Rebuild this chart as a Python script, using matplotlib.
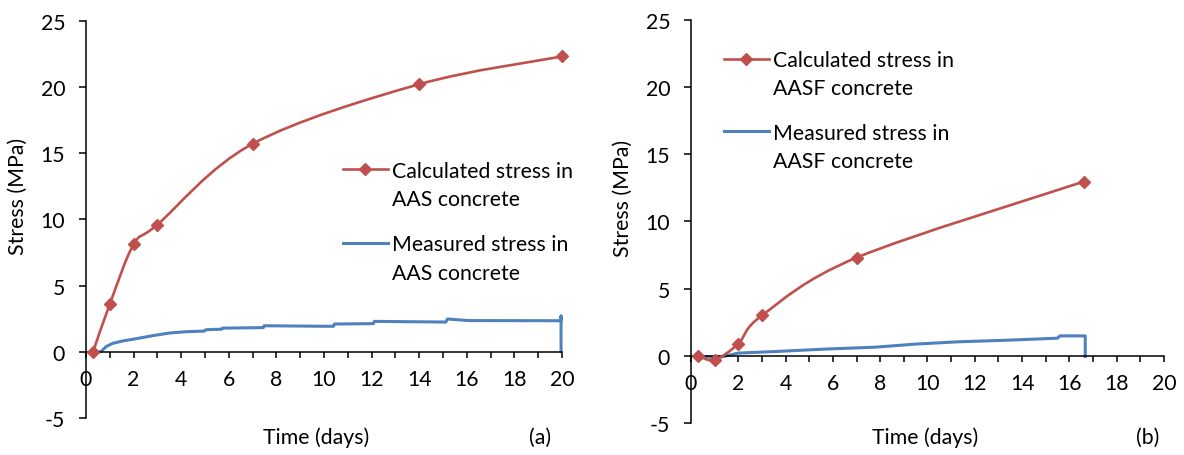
import numpy as np
import matplotlib
matplotlib.use("Agg")
import matplotlib.pyplot as plt
from matplotlib.path import Path
from matplotlib.patches import PathPatch
from matplotlib.lines import Line2D
from matplotlib.ticker import MultipleLocator

plt.rcParams['font.family'] = ['Lato', 'DejaVu Sans']
plt.rcParams['axes.unicode_minus'] = False

# ---- data (a) AAS concrete ----
aas_calc_days = [0.3, 1, 2, 3, 7, 14, 20]
aas_calc_stress = [0.0, 3.6, 8.1, 9.6, 15.7, 20.2, 22.3]
aas_meas_days = [0.3, 0.63, 0.84, 1.12, 1.54, 2.1, 2.8, 3.5, 4.2, 4.97, 5.04, 5.7, 5.74,
                 7.45, 7.49, 10.08, 10.4, 10.43, 12.08, 12.11, 15.12, 15.19, 16.1,
                 19.95, 19.96, 19.96]
aas_meas_stress = [0.0, 0.0, 0.38, 0.63, 0.81, 0.98, 1.21, 1.41, 1.51, 1.56, 1.66, 1.7, 1.78,
                   1.82, 1.96, 1.92, 1.92, 2.09, 2.12, 2.29, 2.24, 2.47, 2.35,
                   2.34, 2.72, 0.0]

# ---- data (b) AASF concrete ----
aasf_calc_days = [0.3, 1, 2, 3, 7, 16.6]
aasf_calc_stress = [0.0, -0.3, 0.9, 3.0, 7.3, 12.95]
aasf_meas_days = [0.3, 0.85, 1.3, 2.0, 3.6, 5.7, 7.8, 9.5, 11.3, 13.4, 15.5, 15.6,
                  16.65, 16.67, 16.67]
aasf_meas_stress = [-0.02, -0.1, -0.08, 0.2, 0.32, 0.5, 0.64, 0.87, 1.04, 1.16, 1.31, 1.48,
                    1.48, 1.48, -0.05]

x_ticks = list(range(0, 21, 2))
y_ticks = [-5, 0, 5, 10, 15, 20, 25]

RED = '#C0504D'
BLUE = '#4F81BD'
FS = 15.3


def smooth_path(x, y):
    pts = np.column_stack([x, y]).astype(float)
    n = len(pts)
    verts = [pts[0]]
    codes = [Path.MOVETO]
    for i in range(n - 1):
        p0 = pts[i - 1] if i > 0 else pts[i]
        p1 = pts[i]
        p2 = pts[i + 1]
        p3 = pts[i + 2] if i + 2 < n else pts[i + 1]
        c1 = p1 + (p2 - p0) / 6.0
        c2 = p2 - (p3 - p1) / 6.0
        verts += [c1, c2, p2]
        codes += [Path.CURVE4] * 3
    return Path(verts, codes)


def style_axes(ax):
    ax.set_xlim(0, 20)
    ax.set_ylim(-5, 25)
    ax.spines['top'].set_visible(False)
    ax.spines['right'].set_visible(False)
    ax.spines['bottom'].set_position(('data', 0))
    for s in ('left', 'bottom'):
        ax.spines[s].set_linewidth(1.1)
        ax.spines[s].set_color('black')
    ax.set_xticks(x_ticks)
    ax.xaxis.set_minor_locator(MultipleLocator(1))
    ax.set_yticks(y_ticks)
    ax.tick_params(axis='x', which='both', direction='out', length=4.5, width=1.1,
                   labelsize=FS, pad=8, colors='black')
    ax.tick_params(axis='y', which='major', direction='out', length=5, width=1.1,
                   labelsize=FS, pad=10, colors='black')
    ax.tick_params(axis='y', which='minor', left=False)


def draw_panel(ax, cx, cy, mx, my, name, leg_x, leg_y1, leg_y2):
    style_axes(ax)
    ax.add_patch(PathPatch(smooth_path(cx, cy), facecolor='none', edgecolor=RED,
                           lw=1.9, zorder=3, clip_on=False))
    ax.plot(cx, cy, linestyle='none', marker='D', color=RED, markersize=6.5, zorder=4,
            clip_on=False)
    ax.plot(mx, my, color=BLUE, lw=2.2, zorder=2, clip_on=False)
    ax.set_ylabel('Stress (MPa)', fontsize=FS)
    ax.yaxis.set_label_coords(-0.122, 0.56)

    blank = Line2D([], [], linestyle='none')
    h1 = Line2D([], [], color=RED, lw=1.9, marker='D', markersize=6.5)
    h2 = Line2D([], [], color=BLUE, lw=2.2)
    kw = dict(loc='upper left', frameon=False, fontsize=FS, handlelength=2.1,
              handletextpad=0.2, labelspacing=0.4, borderpad=0, borderaxespad=0)
    l1 = ax.legend([h1, blank], ['Calculated stress in', name + ' concrete'],
                   bbox_to_anchor=(leg_x, leg_y1), **kw)
    ax.add_artist(l1)
    ax.legend([h2, blank], ['Measured stress in', name + ' concrete'],
              bbox_to_anchor=(leg_x, leg_y2), **kw)


fig = plt.figure(figsize=(11.84, 4.56), dpi=100)
ax1 = fig.add_axes([0.07264, 0.08136, 0.40203, 0.87105])
ax2 = fig.add_axes([0.58361, 0.07018, 0.39949, 0.88443])

draw_panel(ax1, aas_calc_days, aas_calc_stress, aas_meas_days, aas_meas_stress,
           'AAS', 0.54, 0.648, 0.462)
draw_panel(ax2, aasf_calc_days, aasf_calc_stress, aasf_meas_days, aasf_meas_stress,
           'AASF', 0.07, 0.925, 0.745)

fig.text(0.2669, 0.0395, 'Time (days)', fontsize=FS, ha='center', va='center')
fig.text(0.7812, 0.0395, 'Time (days)', fontsize=FS, ha='center', va='center')
fig.text(0.456, 0.0395, '(a)', fontsize=FS, ha='center', va='center')
fig.text(0.9696, 0.0395, '(b)', fontsize=FS, ha='center', va='center')

fig.savefig('out.png', dpi=100)
